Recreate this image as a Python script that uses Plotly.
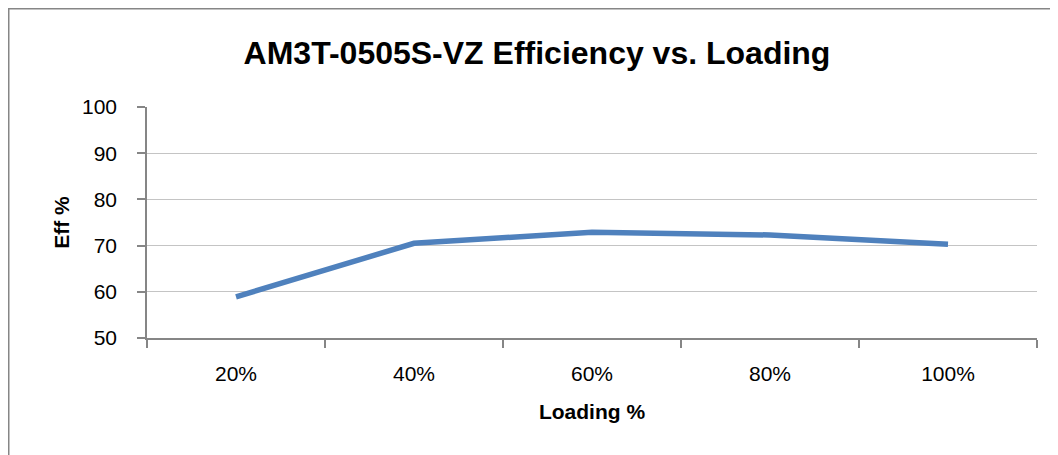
import plotly.graph_objects as go

categories = ["20%", "40%", "60%", "80%", "100%"]
efficiency = [58.9, 70.5, 72.9, 72.3, 70.3]
y_ticks = [50, 60, 70, 80, 90, 100]

FONT = "Liberation Sans"

# page body adds an 8px offset; positions below are in figure coordinates
L, T, W, H = 139, 99, 890, 231
FW, FH = 1058, 455

fig = go.Figure()
fig.add_trace(go.Scatter(
    x=categories, y=efficiency, mode="lines",
    line=dict(color="#4f81bd", width=5.5),
    hoverinfo="x+y", showlegend=False,
))

fig.update_layout(
    width=FW, height=FH,
    margin=dict(l=L, r=FW - L - W, t=T, b=FH - T - H, autoexpand=False),
    paper_bgcolor="white", plot_bgcolor="white",
    font=dict(family=FONT, color="#000000"),
    title=dict(text="<b>AM3T-0505S-VZ Efficiency vs. Loading</b>",
               x=529 / FW, xanchor="center", xref="container",
               y=1 - 45 / FH, yanchor="middle", yref="container",
               font=dict(size=32, family=FONT, color="black")),
    xaxis=dict(
        type="category", range=[-0.5, 4.5], tickson="boundaries",
        ticks="outside", ticklen=8,
        tickcolor="#868686", tickwidth=1.5,
        showline=True, linecolor="#868686", linewidth=1.5,
        showgrid=False, tickfont=dict(size=21, family=FONT),
        ticklabelstandoff=16,
        automargin=False,
        title=dict(text="<b>Loading %</b>", font=dict(size=21, family=FONT), standoff=20),
    ),
    yaxis=dict(
        range=[50, 100], tickvals=y_ticks, ticks="outside", ticklen=8,
        tickcolor="#868686", tickwidth=1.5,
        showline=True, linecolor="#868686", linewidth=1.5,
        showgrid=True, gridcolor="#c4c4c4", gridwidth=1.2,
        zeroline=False, tickfont=dict(size=21, family=FONT),
        ticklabelstandoff=16,
        automargin=False,
        title=dict(text="<b>Eff %</b>", font=dict(size=21, family=FONT), standoff=7),
    ),
    shapes=[dict(
        type="rect", xref="paper", yref="paper",
        x0=(0.5 - L) / W, x1=(1070 - L) / W,
        y0=-(FH + 20 - T - H) / H, y1=1 + (T - 0.5) / H,
        line=dict(color="#868686", width=2), layer="below",
    )],
)

fig.write_html("out.html")
